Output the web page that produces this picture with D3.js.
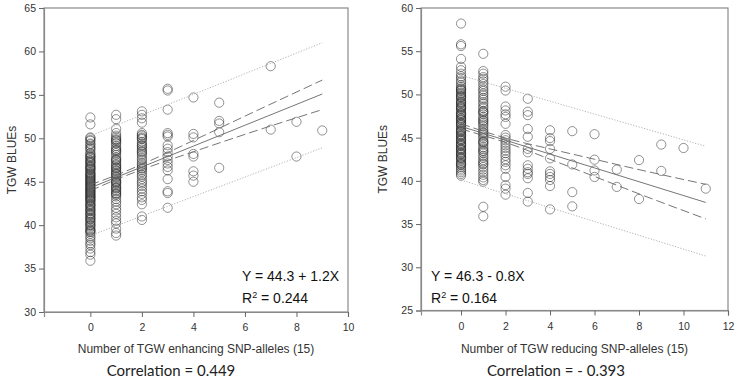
<!DOCTYPE html>
<html>
<head>
<meta charset="utf-8">
<script src="https://cdn.jsdelivr.net/npm/d3@7"></script>
<style>
  body { margin: 0; background: #fff; }
</style>
</head>
<body>
<svg id="chart" width="737" height="378"></svg>
<script>
// ---- left panel: TGW enhancing SNP-alleles ----
const enhCounts = [0, 1, 2, 3, 4, 5, 7, 8, 9];
const enhTGW = [
  [52.4, 51.6, 50.1, 50.0, 49.8, 49.7, 49.4, 49.3, 49.1, 48.9, 48.8, 48.6, 48.3, 48.2, 48.0, 47.9, 47.7, 47.5, 47.4, 47.2,
   47.1, 46.9, 46.7, 46.6, 46.5, 46.3, 46.1, 46.0, 45.9, 45.7, 45.6, 45.4, 45.3, 45.1, 45.0, 44.9, 44.7, 44.6, 44.4, 44.3,
   44.2, 44.0, 43.9, 43.7, 43.6, 43.5, 43.3, 43.2, 43.0, 42.9, 42.7, 42.5, 42.4, 42.2, 42.1, 41.9, 41.8, 41.6, 41.4, 41.3,
   41.1, 40.9, 40.8, 40.6, 40.4, 40.3, 40.1, 39.9, 39.7, 39.5, 39.3, 39.2, 39.0, 38.7, 38.5, 38.2, 37.9, 37.7, 37.3, 36.9,
   36.6, 35.9, 47.8, 47.3, 46.8, 46.4, 45.8, 45.5, 45.2, 44.8, 44.5, 44.1, 43.8, 43.4, 43.1, 42.8, 42.3, 41.7, 41.2, 40.7,
   40.0, 39.4],
  [52.7, 52.2, 51.1, 50.6, 50.3, 50.1, 49.9, 49.7, 49.5, 49.4, 49.1, 48.9, 48.7, 48.5, 48.3, 48.1, 47.8, 47.6, 47.4, 47.2,
   47.0, 46.9, 46.7, 46.5, 46.3, 46.2, 46.0, 45.8, 45.6, 45.5, 45.3, 45.1, 44.9, 44.8, 44.6, 44.4, 44.2, 44.0, 43.9, 43.7,
   43.5, 43.3, 43.0, 42.7, 42.4, 42.0, 41.7, 41.3, 40.9, 40.5, 40.2, 39.6, 39.1, 38.8, 49.8, 48.6, 47.5, 46.6, 45.9, 45.0,
   44.3, 43.6],
  [53.1, 52.7, 52.3, 51.8, 50.6, 50.4, 50.3, 50.1, 49.9, 49.6, 49.4, 49.1, 48.9, 48.7, 48.4, 48.2, 48.0, 47.7, 47.5, 47.2,
   47.0, 46.8, 46.5, 46.3, 46.1, 45.8, 45.6, 45.3, 45.0, 44.8, 44.5, 44.2, 43.9, 43.6, 43.2, 42.9, 42.4, 41.0, 40.6, 50.0,
   49.2, 48.5, 46.6],
  [55.7, 55.5, 53.3, 50.6, 50.4, 50.2, 49.2, 48.8, 48.4, 47.9, 47.5, 47.1, 46.7, 46.3, 45.3, 43.9, 43.7, 42.0],
  [54.7, 50.5, 50.1, 48.2, 47.9, 46.2, 45.7, 45.0],
  [54.1, 52.0, 51.7, 50.7, 46.6],
  [58.3, 51.0],
  [51.9, 47.9],
  [50.9]
];
const enhBandX = [0, 1, 2, 4, 6, 9];
const enhFit = [44.3, 45.5, 46.7, 49.1, 51.5, 55.1];
const enhConfHi = [44.65, 45.75, 47.0, 49.75, 52.55, 56.7];
const enhConfLo = [43.95, 45.25, 46.4, 48.45, 50.45, 53.3];
const enhPredX = [0, 9];
const enhPredHi = [50.3, 61.0];
const enhPredLo = [38.8, 48.9];

// ---- right panel: TGW reducing SNP-alleles ----
const redCounts = [0, 1, 2, 3, 4, 5, 6, 7, 8, 9, 10, 11];
const redTGW = [
  [58.2, 55.8, 55.6, 54.1, 53.2, 52.8, 52.4, 52.1, 51.9, 51.6, 51.4, 51.1, 50.9, 50.7, 50.6, 50.4, 50.2, 50.1, 49.9, 49.7,
   49.6, 49.4, 49.2, 49.1, 48.9, 48.7, 48.6, 48.4, 48.3, 48.1, 47.9, 47.8, 47.6, 47.5, 47.3, 47.1, 47.0, 46.8, 46.7, 46.5,
   46.4, 46.2, 46.0, 45.9, 45.7, 45.6, 45.4, 45.2, 45.1, 44.9, 44.8, 44.6, 44.4, 44.3, 44.1, 44.0, 43.8, 43.6, 43.5, 43.3,
   43.2, 43.0, 42.8, 42.7, 42.5, 42.3, 42.1, 42.0, 41.8, 41.6, 41.4, 41.2, 41.0, 40.8, 40.6, 50.5, 49.8, 49.0, 48.5, 47.7,
   47.2, 46.6, 45.8, 45.3, 44.7, 44.2, 43.7, 43.1, 42.6, 41.9],
  [54.7, 52.7, 52.4, 52.0, 51.8, 51.5, 51.2, 50.9, 50.6, 50.4, 50.1, 49.9, 49.6, 49.4, 49.1, 48.9, 48.6, 48.4, 48.1, 47.9,
   47.7, 47.4, 47.2, 47.0, 46.7, 46.5, 46.3, 46.0, 45.8, 45.6, 45.3, 45.1, 44.9, 44.6, 44.4, 44.2, 43.9, 43.7, 43.4, 43.2,
   42.9, 42.7, 42.4, 42.2, 41.9, 41.6, 41.3, 41.0, 40.7, 40.4, 40.1, 39.9, 37.0, 35.9, 48.0, 46.9, 45.5, 44.5, 43.5, 42.0],
  [50.9, 50.45, 48.6, 48.15, 47.7, 47.4, 46.6, 45.3, 45.0, 44.7, 44.4, 44.1, 43.8, 43.5, 43.2, 42.9, 42.5, 42.2, 41.8, 41.4,
   40.45, 39.5, 39.1, 38.4],
  [49.5, 48.0, 47.6, 46.0, 45.1, 43.7, 43.3, 41.8, 41.4, 41.0, 40.8, 40.3, 38.6, 37.6],
  [45.85, 44.95, 44.6, 43.7, 42.6, 41.1, 40.8, 40.45, 40.1, 39.4, 36.7],
  [45.75, 41.9, 38.7, 37.05],
  [45.4, 42.45, 41.2, 40.45],
  [41.3, 39.3],
  [42.4, 37.9],
  [44.2, 41.15],
  [43.8],
  [39.1]
];
const redBandX = [0, 1, 2, 4, 6, 8, 11];
const redFit = [46.3, 45.5, 44.7, 43.1, 41.5, 39.9, 37.5];
const redConfHi = [46.6, 45.75, 44.95, 43.7, 42.5, 41.3, 39.6];
const redConfLo = [46.0, 45.25, 44.45, 42.5, 40.5, 38.5, 35.6];
const redPredX = [0, 11];
const redPredHi = [52.2, 44.0];
const redPredLo = [40.1, 31.3];

const svg = d3.select("#chart");
const font = "'Liberation Sans', Arial, sans-serif";

function drawPanel(p) {
  const x = d3.scaleLinear().domain(p.xDomain).range([p.left, p.right]);
  const y = d3.scaleLinear().domain(p.yDomain).range([p.bottom, p.top]);
  const g = svg.append("g");

  // frame
  g.append("rect")
    .attr("x", p.left).attr("y", p.top)
    .attr("width", p.right - p.left).attr("height", p.bottom - p.top)
    .attr("fill", "none").attr("stroke", "#8a8a8a").attr("stroke-width", 1.2);

  // axes
  const ya = g.append("g")
    .attr("transform", `translate(${p.left},0)`)
    .call(d3.axisLeft(y).ticks(7).tickSize(5).tickPadding(3));
  const xa = g.append("g")
    .attr("transform", `translate(0,${p.bottom})`)
    .call(d3.axisBottom(x).tickValues(p.xTicks).tickSize(5).tickPadding(7));
  [ya, xa].forEach(a => {
    a.select(".domain").attr("stroke", "#8a8a8a").attr("stroke-width", 1.2);
    a.selectAll(".tick line").attr("stroke", "#666");
    a.selectAll("text").attr("font-family", font).attr("font-size", 10.5).attr("fill", "#333");
  });

  // points
  const pts = p.counts.flatMap((c, i) => p.values[i].map(v => [c, v]));
  g.append("g").selectAll("circle")
    .data(pts)
    .join("circle")
    .attr("cx", d => x(d[0]))
    .attr("cy", d => y(d[1]))
    .attr("r", 4.6)
    .attr("fill", "none")
    .attr("stroke", "#222")
    .attr("stroke-opacity", 0.62)
    .attr("stroke-width", 0.8);

  const line = d3.line().x(d => x(d[0])).y(d => y(d[1])).curve(d3.curveMonotoneX);
  const series = (xs, ys) => xs.map((v, i) => [v, ys[i]]);

  // prediction band (dotted)
  [p.predHi, p.predLo].forEach(ys => {
    g.append("path").datum(series(p.predX, ys)).attr("d", line)
      .attr("fill", "none").attr("stroke", "#aaa").attr("stroke-width", 0.9)
      .attr("stroke-dasharray", "1.2,1.6");
  });
  // confidence band (dashed)
  [p.confHi, p.confLo].forEach(ys => {
    g.append("path").datum(series(p.bandX, ys)).attr("d", line)
      .attr("fill", "none").attr("stroke", "#666").attr("stroke-width", 0.9)
      .attr("stroke-dasharray", "9,4");
  });
  // fitted line
  g.append("path").datum(series(p.bandX, p.fit)).attr("d", line)
    .attr("fill", "none").attr("stroke", "#666").attr("stroke-width", 0.9);

  // y title
  g.append("text")
    .attr("transform", `translate(${p.yTitleX},${(p.top + p.bottom) / 2}) rotate(-90)`)
    .attr("text-anchor", "middle").attr("dy", "0.35em")
    .attr("font-family", font).attr("font-size", 12).attr("fill", "#333")
    .text("TGW BLUEs");
  // x title
  g.append("text")
    .attr("x", (p.left + p.right) / 2).attr("y", 353)
    .attr("text-anchor", "middle")
    .attr("font-family", font).attr("font-size", 12).attr("fill", "#333")
    .text(p.xTitle);
  // correlation
  g.append("text")
    .attr("x", p.corrX).attr("y", 376)
    .attr("text-anchor", "middle")
    .attr("font-family", "Lato, 'Open Sans', sans-serif").attr("font-size", 15).attr("fill", "#222")
    .text(p.corr);

  // equation
  g.append("text")
    .attr("x", p.eqX).attr("y", 281)
    .attr("font-family", font).attr("font-size", 14).attr("fill", "#111")
    .text(p.eq);
  const r2 = g.append("text")
    .attr("x", p.eqX).attr("y", 303)
    .attr("font-family", font).attr("font-size", 14).attr("fill", "#111");
  r2.append("tspan").text("R");
  r2.append("tspan").attr("font-size", 9).attr("dy", -5).text("2");
  r2.append("tspan").attr("dy", 5).text(" = " + p.r2);
}

drawPanel({
  left: 44, right: 348, top: 8, bottom: 312,
  xDomain: [-1.8, 10], yDomain: [30, 65], xTicks: [0, 2, 4, 6, 8, 10],
  counts: enhCounts, values: enhTGW,
  bandX: enhBandX, fit: enhFit, confHi: enhConfHi, confLo: enhConfLo,
  predX: enhPredX, predHi: enhPredHi, predLo: enhPredLo,
  yTitleX: 12, xTitle: "Number of TGW enhancing SNP-alleles (15)",
  corr: "Correlation = 0.449", corrX: 171,
  eq: "Y = 44.3 + 1.2X", r2: "0.244", eqX: 242
});

drawPanel({
  left: 421, right: 728, top: 8, bottom: 310.5,
  xDomain: [-1.8, 12], yDomain: [25, 60], xTicks: [0, 2, 4, 6, 8, 10, 12],
  counts: redCounts, values: redTGW,
  bandX: redBandX, fit: redFit, confHi: redConfHi, confLo: redConfLo,
  predX: redPredX, predHi: redPredHi, predLo: redPredLo,
  yTitleX: 383, xTitle: "Number of TGW reducing SNP-alleles (15)",
  corr: "Correlation = - 0.393", corrX: 556,
  eq: "Y = 46.3 - 0.8X", r2: "0.164", eqX: 431
});
</script>
</body>
</html>
